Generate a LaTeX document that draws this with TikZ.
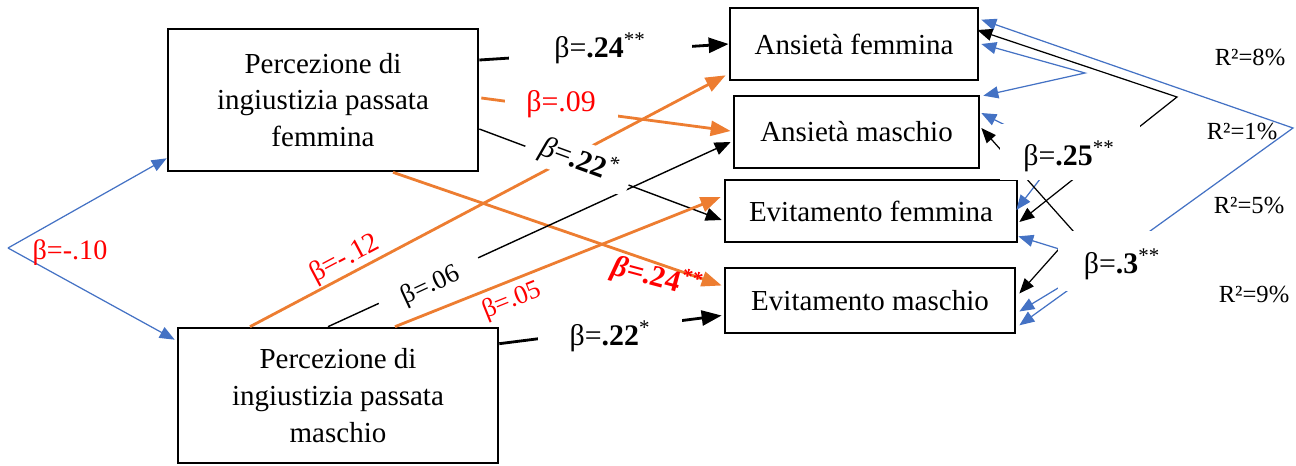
\documentclass[tikz,border=0pt]{standalone}
\usepackage{fontspec}
\setmainfont{Liberation Serif}
\usetikzlibrary{arrows.meta,calc}
\definecolor{orangeline}{RGB}{237,125,49}
\definecolor{blueline}{RGB}{68,114,196}
\definecolor{redtext}{RGB}{255,0,0}

\begin{document}
\begin{tikzpicture}[x=0.2mm,y=-0.2mm,
  box/.style={draw,line width=1.5pt,align=center,inner sep=0pt,font=\fontsize{16.5}{21}\selectfont},
  pathk/.style={line width=1.6pt,-{Triangle[length=4mm,width=3mm]}},
  pathkthin/.style={line width=0.8pt,-{Triangle[length=3.2mm,width=2.6mm]}},
  patho/.style={draw=orangeline,line width=1.6pt,-{Triangle[length=4mm,width=3mm]}},
  covl/.style={draw=blueline,line width=0.7pt,-{Triangle[length=3mm,width=2.4mm]}},
  covb/.style={draw=blueline,line width=0.7pt,{Triangle[length=3mm,width=2.4mm]}-{Triangle[length=3mm,width=2.4mm]}},
  covk/.style={line width=0.7pt,{Triangle[length=3mm,width=2.4mm]}-{Triangle[length=3mm,width=2.4mm]}},
  coefk/.style={font=\fontsize{17}{20}\selectfont},
  coefr/.style={text=redtext,font=\fontsize{17}{20}\selectfont},
  coefsmall/.style={font=\fontsize{15}{18}\selectfont},
  rsq/.style={font=\fontsize{14}{16}\selectfont},
  mask/.style={fill=white}]
\useasboundingbox (0,0) rectangle (1296,465);
% boxes
\node[box,minimum width=6.2cm,minimum height=2.84cm] (PF) at (323,100) {Percezione di\\ingiustizia passata\\femmina};
\node[box,minimum width=6.4cm,minimum height=2.7cm] (PM) at (338,395.5) {Percezione di\\ingiustizia passata\\maschio};
\node[box,minimum width=4.96cm,minimum height=1.44cm] (AF) at (854,44) {Ansietà femmina};
\node[box,minimum width=4.9cm,minimum height=1.44cm] (AM) at (856.5,132) {Ansietà maschio};
\node[box,minimum width=5.84cm,minimum height=1.24cm] (EF) at (871,211) {Evitamento femmina};
\node[box,minimum width=5.8cm,minimum height=1.3cm] (EM) at (870,300.5) {Evitamento maschio};
%
\coordinate (L) at (8,248);
\draw[covl] (L) -- ($(PF.south west)+(0,-14)$);
\draw[covl] (L) -- ($(PM.north west)+(-2,13)$);
\node[coefr,font=\fontsize{16}{18}\selectfont] (b10) at (70,253) {β=-.10};
%
\draw[pathk] ($(PF.east)+(0,-40)$) -- (AF.west);
\draw[patho] ($(PF.east)+(2,-2)$) -- ($(AM.west)+(-2,-1)$);
\draw[pathkthin] ($(PF.east)+(0,29)$) -- ($(EF.west)+(-2,9)$);
\draw[patho] ($(PF.south)+(70,0)$) -- ($(EM.west)+(-2,-15)$);
\draw[patho] ($(PM.north)+(-88,0)$) -- ($(AF.south west)+(-3,-6)$);
\draw[pathkthin] ($(PM.north)+(-10,0)$) -- ($(AM.west)+(-2,10)$);
\draw[patho] ($(PM.north)+(57,0)$) -- ($(EF.west)+(-3,-14)$);
\draw[pathk] ($(PM.north east)+(0,17)$) -- ($(EM.west)+(-2,15)$);
%
\coordinate (VA) at (1293,128);
\coordinate (VB) at (1085,73);
\coordinate (VC) at (1060,153);
\coordinate (VD) at (1101,262);
\coordinate (KA) at (1177,97);
\coordinate (KB) at (1074,232);
\draw[covb] ($(AF.north east)+(2,13)$) -- (VA) -- ($(EM.south east)+(3,-9)$);
\draw[covb] ($(AF.east)+(2,0)$) -- (VB) -- ($(AM.north east)+(3,1)$);
\draw[covb] ($(AM.east)+(1,-19)$) -- (VC) -- ($(EF.east)+(-2,-1)$);
\draw[covb] ($(EF.south east)+(0,-7)$) -- (VD) -- ($(EM.east)+(3,11)$);
\draw[covk] ($(AF.east)+(-2,-14)$) -- (KA) -- ($(EF.east)+(1,11)$);
\draw[covk] ($(AM.east)+(1,-4)$) -- (KB) -- ($(EM.east)+(3,-7)$);
%
\fill[mask] (1000,124) rectangle (1140,180);
\fill[mask] (1058,231) rectangle (1165,291);
\node[coefk] (b25) at (1069,156) {β=\textbf{.25}\textsuperscript{**}};
\node[coefk] (b3) at (1122,264) {β=\textbf{.3}\textsuperscript{**}};
%
\node[coefk,mask,minimum width=3.66cm] (b24) at (600,48) {β=\textbf{.24}\textsuperscript{**}};
\node[coefr,mask,minimum width=2.26cm] (b09) at (561,104) {β=.09};
\node[coefk,mask,rotate=-20,minimum width=2.2cm,inner ysep=2pt] (b22f) at (579,160) {\textit{β}=\textbf{.22}\textsuperscript{*}};
\node[coefk,coefsmall,mask,rotate=25,minimum width=2.18cm,inner ysep=1pt] (b06) at (431,286) {β=.06};
\node[coefr,coefsmall,rotate=22] (b05) at (512,301) {β=.05};
\node[coefr,font=\fontsize{16}{18}\selectfont,rotate=28] (b12) at (345,259) {β=-.12};
\node[coefr,rotate=-15] (b24r) at (657,277) {\textbf{\textit{β}=.24\textsuperscript{**}}};
\node[coefk,mask,minimum width=2.88cm] (b22m) at (610,336) {β=\textbf{.22}\textsuperscript{*}};
%
\node[rsq] (r8) at (1250,57) {R²=8\%};
\node[rsq] (r1) at (1242,131) {R²=1\%};
\node[rsq] (r5) at (1249,205) {R²=5\%};
\node[rsq] (r9) at (1254,294) {R²=9\%};
\end{tikzpicture}
\end{document}
